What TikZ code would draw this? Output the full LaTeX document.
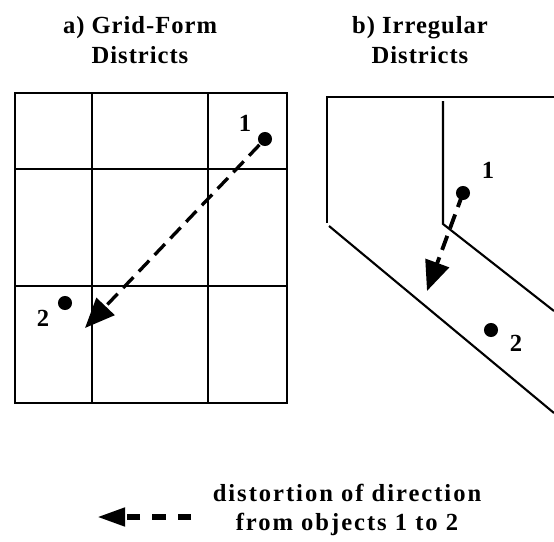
\documentclass[tikz,border=0pt]{standalone}
\usepackage{fontspec}
\setmainfont{Liberation Serif}
\usetikzlibrary{arrows.meta, positioning}

\begin{document}
\begin{tikzpicture}[
        x=0.02cm, y=-0.02cm,
        line width=1.2pt,
        >={Triangle[length=17pt, width=14pt]},
        title/.style={
            font=\bfseries\fontsize{14}{17}\selectfont\addfontfeatures{LetterSpace=4},
            align=center
        },
        legend/.style={
            font=\bfseries\fontsize{14}{16}\selectfont\addfontfeatures{LetterSpace=8},
            align=center
        },
        tag/.style={font=\bfseries\fontsize{14}{15}\selectfont, inner sep=0pt},
        object/.style={circle, fill, inner sep=0pt, minimum size=8pt},
        distort/.style={->, line width=1.9pt, dash pattern=on 8.5pt off 4.5pt}
    ]
    \useasboundingbox (0,0) rectangle (554,541);

    % Titles
    \node[title] (titleA) at (140,40) {a) Grid-Form\\Districts};
    \node[title] (titleB) at (420,40) {b) Irregular\\Districts};

    % a) grid of districts
    \draw (15,93) rectangle (287,403);
    \draw (92,93) -- (92,403);
    \draw (208,93) -- (208,403);
    \draw (15,169) -- (287,169);
    \draw (15,286) -- (287,286);

    \node[object] (objA1) at (265,139) {};
    \node[object] (objA2) at (65,303) {};
    \node[tag] (tagA1) at (245,123) {1};
    \node[tag] (tagA2) at (43,318) {2};
    \coordinate (endA) at (85,328);

    % b) irregular districts
    \draw (554,97) -- (327,97) -- (327,223);
    \draw (443,101) -- (443,224) -- (554,311);
    \draw (329,226) -- (554,413);

    \node[object] (objB1) at (463,193) {};
    \node[object] (objB2) at (491,330) {};
    \node[tag] (tagB1) at (488,170) {1};
    \node[tag] (tagB2) at (516,343) {2};
    \coordinate (endB) at (427,291);

    % Arrows
    \draw[distort] (objA1) -- (endA);
    \draw[distort, line width=2.2pt] (objB1.center) -- (endB);

    % Legend
    \coordinate (legTail) at (191,517);
    \coordinate (legTip) at (97,517);
    \draw[->, line width=3.4pt, dash pattern=on 7.5pt off 7pt, >={Triangle[length=16pt, width=10pt]}]
        (legTail) -- (legTip);
    \node[legend, inner sep=0pt] (legText) at (347,510) {distortion of direction\\from objects 1 to 2};

\end{tikzpicture}
\end{document}
